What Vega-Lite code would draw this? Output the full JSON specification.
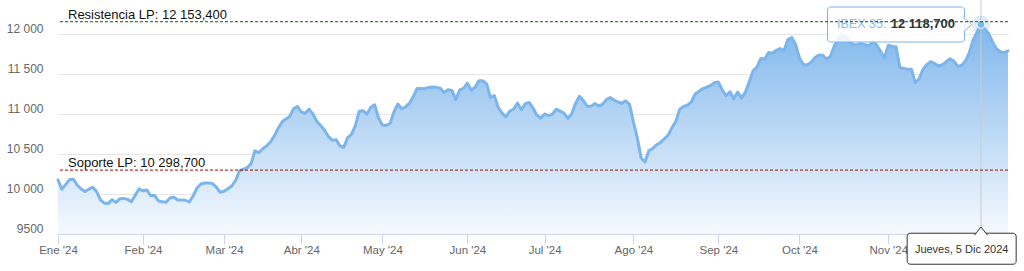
{
  "$schema": "https://vega.github.io/schema/vega-lite/v6.json",
  "width": 950,
  "height": 234,
  "autosize": {"type": "none"},
  "padding": {"left": 58, "top": 0, "right": 16, "bottom": 37},
  "background": "white",
  "config": {"view": {"stroke": null}, "font": "Liberation Sans", "scale": {"zero": false}},
  "datasets": {
    "ibex": [
      {"d":"2024-01-02","v":10175},{"d":"2024-01-03","v":10060},{"d":"2024-01-04","v":10120},{"d":"2024-01-05","v":10180},{"d":"2024-01-08","v":10185},{"d":"2024-01-09","v":10110},{"d":"2024-01-10","v":10063},{"d":"2024-01-11","v":10030},{"d":"2024-01-12","v":10060},{"d":"2024-01-15","v":10085},{"d":"2024-01-16","v":10030},{"d":"2024-01-17","v":9925},{"d":"2024-01-18","v":9885},{"d":"2024-01-19","v":9880},{"d":"2024-01-22","v":9930},{"d":"2024-01-23","v":9895},{"d":"2024-01-24","v":9940},{"d":"2024-01-25","v":9945},{"d":"2024-01-26","v":9933},{"d":"2024-01-29","v":9905},{"d":"2024-01-30","v":9985},{"d":"2024-01-31","v":10065},
      {"d":"2024-02-01","v":10040},{"d":"2024-02-02","v":10050},{"d":"2024-02-05","v":9980},{"d":"2024-02-06","v":9982},{"d":"2024-02-07","v":9915},{"d":"2024-02-08","v":9902},{"d":"2024-02-09","v":9898},{"d":"2024-02-12","v":9950},{"d":"2024-02-13","v":9960},{"d":"2024-02-14","v":9925},{"d":"2024-02-15","v":9925},{"d":"2024-02-16","v":9922},{"d":"2024-02-19","v":9900},{"d":"2024-02-20","v":9975},{"d":"2024-02-21","v":10075},{"d":"2024-02-22","v":10125},{"d":"2024-02-23","v":10138},{"d":"2024-02-26","v":10138},{"d":"2024-02-27","v":10130},{"d":"2024-02-28","v":10087},{"d":"2024-02-29","v":10020},
      {"d":"2024-03-01","v":10035},{"d":"2024-03-04","v":10065},{"d":"2024-03-05","v":10100},{"d":"2024-03-06","v":10170},{"d":"2024-03-07","v":10290},{"d":"2024-03-08","v":10312},{"d":"2024-03-11","v":10330},{"d":"2024-03-12","v":10380},{"d":"2024-03-13","v":10540},{"d":"2024-03-14","v":10515},{"d":"2024-03-15","v":10565},{"d":"2024-03-18","v":10600},{"d":"2024-03-19","v":10650},{"d":"2024-03-20","v":10725},{"d":"2024-03-21","v":10820},{"d":"2024-03-22","v":10900},{"d":"2024-03-25","v":10938},{"d":"2024-03-26","v":10970},{"d":"2024-03-27","v":11065},{"d":"2024-03-28","v":11095},
      {"d":"2024-04-02","v":11025},{"d":"2024-04-03","v":11010},{"d":"2024-04-04","v":11060},{"d":"2024-04-05","v":11000},{"d":"2024-04-08","v":10910},{"d":"2024-04-09","v":10855},{"d":"2024-04-10","v":10800},{"d":"2024-04-11","v":10720},{"d":"2024-04-12","v":10670},{"d":"2024-04-15","v":10680},{"d":"2024-04-16","v":10600},{"d":"2024-04-17","v":10585},{"d":"2024-04-18","v":10705},{"d":"2024-04-19","v":10745},{"d":"2024-04-22","v":10855},{"d":"2024-04-23","v":11035},{"d":"2024-04-24","v":11040},{"d":"2024-04-25","v":11000},{"d":"2024-04-26","v":11085},{"d":"2024-04-29","v":11115},{"d":"2024-04-30","v":10950},
      {"d":"2024-05-02","v":10862},{"d":"2024-05-03","v":10855},{"d":"2024-05-06","v":10885},{"d":"2024-05-07","v":11025},{"d":"2024-05-08","v":11125},{"d":"2024-05-09","v":11065},{"d":"2024-05-10","v":11090},{"d":"2024-05-13","v":11135},{"d":"2024-05-14","v":11220},{"d":"2024-05-15","v":11320},{"d":"2024-05-16","v":11318},{"d":"2024-05-17","v":11317},{"d":"2024-05-20","v":11332},{"d":"2024-05-21","v":11337},{"d":"2024-05-22","v":11333},{"d":"2024-05-23","v":11323},{"d":"2024-05-24","v":11270},{"d":"2024-05-27","v":11305},{"d":"2024-05-28","v":11295},{"d":"2024-05-29","v":11180},{"d":"2024-05-30","v":11300},{"d":"2024-05-31","v":11321},
      {"d":"2024-06-03","v":11385},{"d":"2024-06-04","v":11300},{"d":"2024-06-05","v":11333},{"d":"2024-06-06","v":11415},{"d":"2024-06-07","v":11415},{"d":"2024-06-10","v":11375},{"d":"2024-06-11","v":11205},{"d":"2024-06-12","v":11230},{"d":"2024-06-13","v":11080},{"d":"2024-06-14","v":11010},{"d":"2024-06-17","v":10965},{"d":"2024-06-18","v":11035},{"d":"2024-06-19","v":11062},{"d":"2024-06-20","v":11135},{"d":"2024-06-21","v":11055},{"d":"2024-06-24","v":11130},{"d":"2024-06-25","v":11145},{"d":"2024-06-26","v":11075},{"d":"2024-06-27","v":10985},{"d":"2024-06-28","v":10946},
      {"d":"2024-07-01","v":11000},{"d":"2024-07-02","v":10980},{"d":"2024-07-03","v":10995},{"d":"2024-07-04","v":11060},{"d":"2024-07-05","v":11035},{"d":"2024-07-08","v":11010},{"d":"2024-07-09","v":10945},{"d":"2024-07-10","v":11000},{"d":"2024-07-11","v":11130},{"d":"2024-07-12","v":11220},{"d":"2024-07-15","v":11170},{"d":"2024-07-16","v":11100},{"d":"2024-07-17","v":11095},{"d":"2024-07-18","v":11130},{"d":"2024-07-19","v":11100},{"d":"2024-07-22","v":11120},{"d":"2024-07-23","v":11180},{"d":"2024-07-24","v":11207},{"d":"2024-07-25","v":11175},{"d":"2024-07-26","v":11150},{"d":"2024-07-29","v":11135},{"d":"2024-07-30","v":11165},{"d":"2024-07-31","v":11120},
      {"d":"2024-08-01","v":10900},{"d":"2024-08-02","v":10705},{"d":"2024-08-05","v":10450},{"d":"2024-08-06","v":10400},{"d":"2024-08-07","v":10540},{"d":"2024-08-08","v":10570},{"d":"2024-08-09","v":10615},{"d":"2024-08-12","v":10642},{"d":"2024-08-13","v":10690},{"d":"2024-08-14","v":10735},{"d":"2024-08-15","v":10830},{"d":"2024-08-16","v":10910},{"d":"2024-08-19","v":11060},{"d":"2024-08-20","v":11095},{"d":"2024-08-21","v":11110},{"d":"2024-08-22","v":11150},{"d":"2024-08-23","v":11250},{"d":"2024-08-26","v":11285},{"d":"2024-08-27","v":11318},{"d":"2024-08-28","v":11337},{"d":"2024-08-29","v":11357},{"d":"2024-08-30","v":11392},
      {"d":"2024-09-02","v":11400},{"d":"2024-09-03","v":11300},{"d":"2024-09-04","v":11228},{"d":"2024-09-05","v":11279},{"d":"2024-09-06","v":11190},{"d":"2024-09-09","v":11275},{"d":"2024-09-10","v":11198},{"d":"2024-09-11","v":11273},{"d":"2024-09-12","v":11404},{"d":"2024-09-13","v":11540},{"d":"2024-09-16","v":11588},{"d":"2024-09-17","v":11695},{"d":"2024-09-18","v":11684},{"d":"2024-09-19","v":11770},{"d":"2024-09-20","v":11760},{"d":"2024-09-23","v":11796},{"d":"2024-09-24","v":11818},{"d":"2024-09-25","v":11794},{"d":"2024-09-26","v":11930},{"d":"2024-09-27","v":11957},{"d":"2024-09-30","v":11870},
      {"d":"2024-10-01","v":11700},{"d":"2024-10-02","v":11620},{"d":"2024-10-03","v":11612},{"d":"2024-10-04","v":11648},{"d":"2024-10-07","v":11705},{"d":"2024-10-08","v":11735},{"d":"2024-10-09","v":11737},{"d":"2024-10-10","v":11688},{"d":"2024-10-11","v":11720},{"d":"2024-10-14","v":11850},{"d":"2024-10-15","v":11940},{"d":"2024-10-16","v":11985},{"d":"2024-10-17","v":11970},{"d":"2024-10-18","v":11900},{"d":"2024-10-21","v":11865},{"d":"2024-10-22","v":11870},{"d":"2024-10-23","v":11882},{"d":"2024-10-24","v":11865},{"d":"2024-10-25","v":11855},{"d":"2024-10-28","v":11900},{"d":"2024-10-29","v":11862},{"d":"2024-10-30","v":11785},{"d":"2024-10-31","v":11700},
      {"d":"2024-11-01","v":11860},{"d":"2024-11-04","v":11845},{"d":"2024-11-05","v":11842},{"d":"2024-11-06","v":11580},{"d":"2024-11-07","v":11568},{"d":"2024-11-08","v":11560},{"d":"2024-11-11","v":11558},{"d":"2024-11-12","v":11390},{"d":"2024-11-13","v":11440},{"d":"2024-11-14","v":11560},{"d":"2024-11-15","v":11620},{"d":"2024-11-18","v":11655},{"d":"2024-11-19","v":11630},{"d":"2024-11-20","v":11600},{"d":"2024-11-21","v":11615},{"d":"2024-11-22","v":11655},{"d":"2024-11-25","v":11690},{"d":"2024-11-26","v":11660},{"d":"2024-11-27","v":11595},{"d":"2024-11-28","v":11610},{"d":"2024-11-29","v":11665},
      {"d":"2024-12-02","v":11770},{"d":"2024-12-03","v":11930},{"d":"2024-12-04","v":12025},{"d":"2024-12-05","v":12118.7},{"d":"2024-12-06","v":12060},{"d":"2024-12-09","v":12005},{"d":"2024-12-10","v":11900},{"d":"2024-12-11","v":11815},{"d":"2024-12-12","v":11778},{"d":"2024-12-13","v":11767},{"d":"2024-12-16","v":11790}
    ]
  },
  "layer": [
    {
      "data": {"name": "ibex"},
      "mark": {"type": "area", "interpolate": "linear", "color": {"gradient": "linear", "x1": 0, "y1": 0, "x2": 0, "y2": 1, "stops": [{"offset": 0, "color": "#80b7ec"}, {"offset": 1, "color": "#f5f9fe"}]}},
      "encoding": {
        "x": {"field": "d", "type": "ordinal", "scale": {"type": "point", "padding": 0},
          "axis": {"title": null, "values": ["2024-01-02","2024-02-01","2024-03-01","2024-04-02","2024-05-02","2024-06-03","2024-07-01","2024-08-01","2024-09-02","2024-10-01","2024-11-01","2024-12-02"],
            "labelExpr": "substring(datum.value,5,7) == '12' ? '' : ['Ene','Feb','Mar','Abr','May','Jun','Jul','Ago','Sep','Oct','Nov','Dic'][toNumber(substring(datum.value,5,7))-1] + \" '24\"",
            "labelAngle": 0, "domainColor": "#ccd6eb", "tickColor": "#ccd6eb", "tickSize": 10, "labelColor": "#666666", "labelFontSize": 11.5, "labelPadding": 0, "labelBaseline": "top", "grid": false, "labelOverlap": false}},
        "y": {"field": "v", "type": "quantitative", "scale": {"domain": [9500, 12425], "nice": false, "zero": false},
          "axis": {"title": null, "values": [9500, 10000, 10500, 11000, 11500, 12000], "grid": true, "gridColor": "#e6e6e6", "domain": false, "ticks": false, "labelPadding": 15, "labelColor": "#666666", "labelFontSize": 12, "labelBaseline": "middle", "labelOffset": -6,
            "labelExpr": "datum.value >= 10000 ? floor(datum.value/1000) + ' ' + substring(toString(datum.value), 2) : toString(datum.value)"}},
        "y2": {"datum": 9500}
      }
    },
    {
      "data": {"name": "ibex"},
      "mark": {"type": "line", "color": "#7cb5ec", "strokeWidth": 3, "strokeJoin": "round", "strokeCap": "round"},
      "encoding": {
        "x": {"field": "d", "type": "ordinal"},
        "y": {"field": "v", "type": "quantitative"}
      }
    },
    {
      "data": {"values": [{"d": "2024-12-05"}]},
      "mark": {"type": "rule", "color": "#cccccc", "strokeWidth": 1},
      "encoding": {"x": {"field": "d", "type": "ordinal"}}
    },
    {
      "data": {"values": [{"d": "2024-11-05", "v": 12118.7}]},
      "mark": {"type": "rect", "width": 137, "height": 35, "fill": "#ffffff", "fillOpacity": 0.85, "stroke": "#7cb5ec", "strokeWidth": 1, "cornerRadius": 3},
      "encoding": {"x": {"field": "d", "type": "ordinal"}, "y": {"field": "v", "type": "quantitative"}}
    },
    {
      "data": {"values": [{"d": "2024-12-05", "v": 12118.7}]},
      "mark": {"type": "point", "shape": "M -1.75 -0.75 L -0.93 0 L -1.75 0.75", "size": 400, "filled": true, "fill": "#ffffff", "fillOpacity": 0.85, "stroke": "#7cb5ec", "strokeWidth": 1, "opacity": 1},
      "encoding": {"x": {"field": "d", "type": "ordinal"}, "y": {"field": "v", "type": "quantitative"}}
    },
    {
      "data": {"values": [{"d": "2024-11-05", "v": 12118.7, "t": "IBEX 35:"}]},
      "mark": {"type": "text", "align": "left", "baseline": "middle", "dx": -59, "dy": -1, "fontSize": 12.5, "color": "#8fbcec"},
      "encoding": {"x": {"field": "d", "type": "ordinal"}, "y": {"field": "v", "type": "quantitative"}, "text": {"field": "t"}}
    },
    {
      "data": {"values": [{"d": "2024-11-05", "v": 12118.7, "t": "12 118,700"}]},
      "mark": {"type": "text", "align": "right", "baseline": "middle", "dx": 59, "dy": -1, "fontSize": 13, "fontWeight": "bold", "color": "#333333"},
      "encoding": {"x": {"field": "d", "type": "ordinal"}, "y": {"field": "v", "type": "quantitative"}, "text": {"field": "t"}}
    },
    {
      "data": {"values": [{"d": "2024-11-28", "v": 9316}]},
      "mark": {"type": "rect", "width": 109, "height": 31, "fill": "#ffffff", "fillOpacity": 0.9, "stroke": "#333333", "strokeWidth": 1, "cornerRadius": 3},
      "encoding": {"x": {"field": "d", "type": "ordinal"}, "y": {"field": "v", "type": "quantitative"}}
    },
    {
      "data": {"values": [{"d": "2024-12-05", "v": 9500}]},
      "mark": {"type": "point", "shape": "M -0.65 0.12 L 0 -0.7 L 0.65 0.12", "size": 400, "filled": true, "fill": "#ffffff", "stroke": "#333333", "strokeWidth": 1, "opacity": 1},
      "encoding": {"x": {"field": "d", "type": "ordinal"}, "y": {"field": "v", "type": "quantitative"}}
    },
    {
      "data": {"values": [{"d": "2024-11-28", "v": 9316, "t": "Jueves, 5 Dic 2024"}]},
      "mark": {"type": "text", "align": "center", "baseline": "middle", "dy": 1, "fontSize": 11, "color": "#333333"},
      "encoding": {"x": {"field": "d", "type": "ordinal"}, "y": {"field": "v", "type": "quantitative"}, "text": {"field": "t"}}
    },
    {
      "data": {"values": [{"d": "2024-12-05", "v": 12118.7}]},
      "mark": {"type": "point", "shape": "circle", "size": 324, "filled": true, "color": "#7cb5ec", "opacity": 0.25},
      "encoding": {"x": {"field": "d", "type": "ordinal"}, "y": {"field": "v", "type": "quantitative"}}
    },
    {
      "data": {"values": [{"d": "2024-12-05", "v": 12118.7}]},
      "mark": {"type": "point", "shape": "circle", "size": 64, "filled": true, "fill": "#7cb5ec", "stroke": "#ffffff", "strokeWidth": 1, "opacity": 1},
      "encoding": {"x": {"field": "d", "type": "ordinal"}, "y": {"field": "v", "type": "quantitative"}}
    },
    {
      "data": {"values": [{"k": "res", "v": 12153.4, "label": "Resistencia LP: 12 153,400"}, {"k": "sop", "v": 10298.7, "label": "Soporte LP: 10 298,700"}]},
      "layer": [
        {
          "mark": {"type": "rule", "strokeWidth": 1, "strokeDash": [3, 2]},
          "encoding": {"y": {"field": "v", "type": "quantitative"}, "color": {"field": "k", "type": "nominal", "scale": {"domain": ["res", "sop"], "range": ["#006400", "#a50000"]}, "legend": null}}
        },
        {
          "mark": {"type": "text", "align": "left", "baseline": "alphabetic", "dx": 10, "dy": -3, "fontSize": 13, "color": "#111111"},
          "encoding": {"x": {"datum": "2024-01-02", "type": "ordinal"}, "y": {"field": "v", "type": "quantitative"}, "text": {"field": "label"}}
        }
      ]
    }
  ]
}
